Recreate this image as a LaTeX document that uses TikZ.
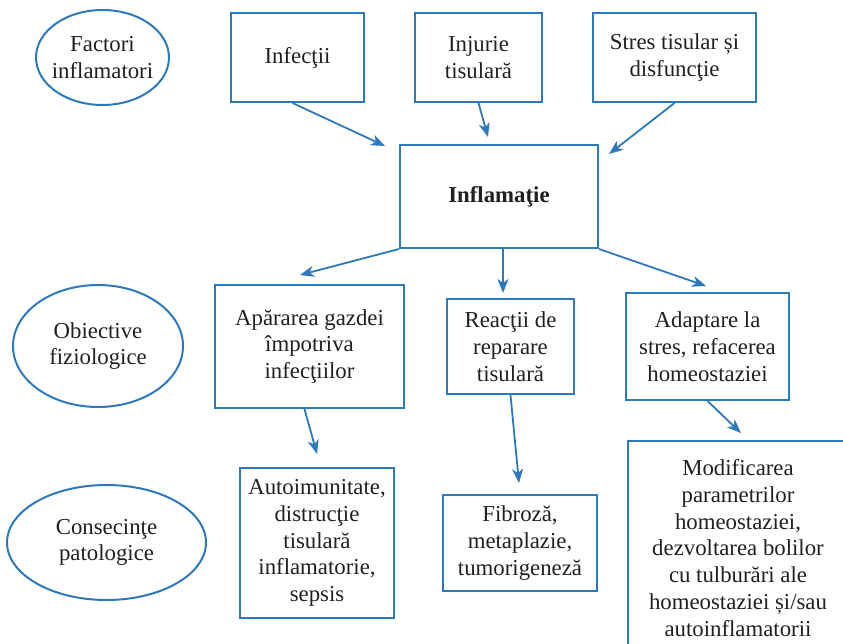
\documentclass[tikz,border=0pt]{standalone}
\usepackage{fontspec}
\setmainfont{Liberation Serif}
\usetikzlibrary{shapes.geometric,arrows.meta}
\definecolor{bl}{RGB}{46,121,190}
\definecolor{tx}{RGB}{35,31,32}
\begin{document}
\begin{tikzpicture}[x=1pt,y=-1pt,
  font=\fontsize{22.8}{26.7}\selectfont,
  box/.style={draw=bl,line width=2pt,rectangle,align=center,text=tx,inner sep=0pt},
  oval/.style={draw=bl,line width=2pt,ellipse,align=center,text=tx,inner sep=0pt},
  arr/.style={draw=bl,line width=1.8pt,-{Stealth[length=14pt,width=11pt,inset=4pt]}}]
\useasboundingbox (0,0) rectangle (843,643);
% ovals
\node[oval,inner xsep=-5pt,minimum width=133pt,minimum height=95pt] (fac) at (102.5,57.5) {Factori\\inflamatori};
\node[oval,minimum width=170pt,minimum height=122pt] (obi) at (98,346) {Obiective\\fiziologice};
\node[oval,minimum width=199pt,minimum height=115pt] (con) at (106.5,542.5) {Consecinţe\\patologice};
% top boxes
\node[box,minimum width=133pt,minimum height=89pt] (inf) at (297.5,57.5) {Infecţii};
\node[box,minimum width=127pt,minimum height=89pt] (inj) at (478.5,57.5) {Injurie\\tisulară};
\node[box,minimum width=163pt,minimum height=89pt] (str) at (674.5,57.5) {Stres tisular și\\disfuncţie};
% center
\node[box,minimum width=198pt,minimum height=103pt] (infl) at (499,196.5) {\bfseries Inflamaţie};
% middle row
\node[box,minimum width=189pt,minimum height=123pt] (apa) at (309.5,346.5) {Apărarea gazdei\\împotriva\\infecţiilor};
\node[box,minimum width=127pt,minimum height=95pt] (rea) at (510.5,346.5) {Reacţii de\\reparare\\tisulară};
\node[box,minimum width=163pt,minimum height=107pt] (ada) at (707.5,346.5) {Adaptare la\\stres, refacerea\\homeostaziei};
% bottom row
\node[box,minimum width=154pt,minimum height=150pt] (aut) at (317,543) {Autoimunitate,\\distrucţie\\tisulară\\inflamatorie,\\sepsis};
\node[box,minimum width=154pt,minimum height=96pt] (fib) at (520,543) {Fibroză,\\metaplazie,\\tumorigeneză};
\node[box,minimum width=220pt,minimum height=214pt] (mod) at (738,548) {Modificarea\\parametrilor\\homeostaziei,\\dezvoltarea bolilor\\cu tulburări ale\\homeostaziei și/sau\\autoinflamatorii};
% arrow end points
\coordinate (e1) at (385,146);
\coordinate (e2) at (488,137);
\coordinate (e3) at (609,154);
\coordinate (e4) at (300,275);
\coordinate (e5) at (503,293);
\coordinate (e6) at (706,286);
\coordinate (e7) at (317,454);
\coordinate (e8) at (519,483);
\coordinate (e9) at (741,433);
% arrows
\draw[arr] ([xshift=-5pt]inf.south) -- (e1);
\draw[arr] (inj.south) -- (e2);
\draw[arr] (str.south) -- (e3);
\draw[arr] (infl.south west) -- (e4);
\draw[arr] ([xshift=4pt]infl.south) -- (e5);
\draw[arr] (infl.south east) -- (e6);
\draw[arr] ([xshift=-5pt]apa.south) -- (e7);
\draw[arr] (rea.south) -- (e8);
\draw[arr] (ada.south) -- (e9);
\end{tikzpicture}
\end{document}
